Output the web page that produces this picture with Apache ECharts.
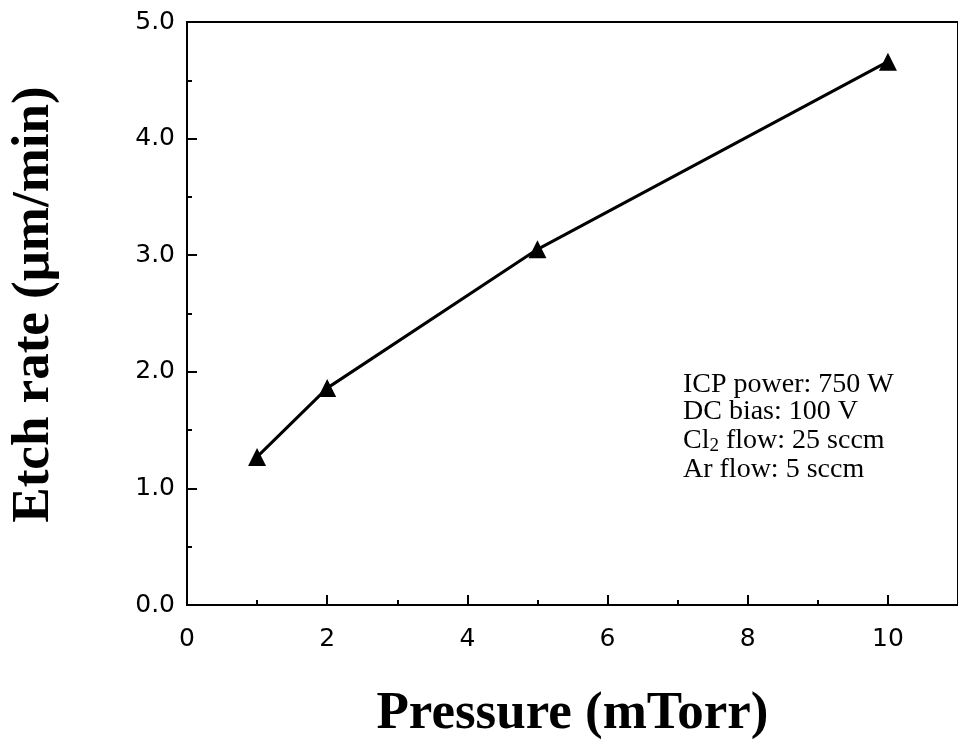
<!DOCTYPE html>
<html>
<head>
<meta charset="utf-8">
<script src="https://cdn.jsdelivr.net/npm/echarts@6/dist/echarts.min.js"></script>
<style>
  html, body { margin: 0; padding: 0; background: #fff; }
  #chart { width: 958px; height: 750px; }
</style>
</head>
<body>
<div id="chart"></div>
<script>
// pressure (mTorr) vs etch rate (um/min)
var pressure = [1, 2, 5, 10];
var etchRate = [1.27, 1.86, 3.05, 4.66];
var notes = ["ICP power: 750 W", "DC bias: 100 V", "{n|Cl}{s|2}{n| flow: 25 sccm}", "Ar flow: 5 sccm"];
var noteTops = [371, 398, 427, 456];

var myChart = echarts.init(document.getElementById("chart"));
var tickFont = { color: "#000", fontSize: 25, fontFamily: "DejaVu Sans" };
var nameFont = { color: "#000", fontSize: 53, fontWeight: "bold", fontFamily: "Liberation Serif" };

var graphics = notes.map(function (t, i) {
  return {
    type: "text",
    left: 683,
    top: noteTops[i],
    style: {
      text: t,
      font: "28px 'Liberation Serif'",
      fill: "#000",
      rich: {
        n: { fontSize: 28, lineHeight: 30, fontFamily: "Liberation Serif" },
        s: { fontSize: 19, lineHeight: 8, verticalAlign: "bottom", fontFamily: "Liberation Serif" },
      },
    },
  };
});

var option = {
  backgroundColor: "#fff",
  animation: false,
  grid: {
    left: 184,
    right: -6,
    top: 22,
    bottom: 145,
    show: true,
    borderColor: "#000",
    borderWidth: 2,
  },
  xAxis: {
    type: "value",
    min: 0,
    max: 11,
    interval: 2,
    name: "Pressure (mTorr)",
    nameLocation: "middle",
    nameGap: 83,
    nameTextStyle: nameFont,
    axisLine: { show: true, onZero: false, lineStyle: { color: "#000", width: 2 } },
    axisTick: { show: true, inside: true, length: 10, lineStyle: { color: "#000", width: 2 } },
    minorTick: { show: true, splitNumber: 2, length: 5, lineStyle: { color: "#000", width: 2 } },
    splitLine: { show: false },
    axisLabel: Object.assign({ margin: 22, showMaxLabel: false }, tickFont),
  },
  yAxis: {
    type: "value",
    min: 0,
    max: 5,
    interval: 1,
    name: "Etch rate (μm/min)",
    nameLocation: "middle",
    nameGap: 126,
    nameTextStyle: Object.assign({ padding: [0, 0, 0, 18] }, nameFont),
    axisLine: { show: true, lineStyle: { color: "#000", width: 2 } },
    axisTick: { show: true, inside: true, length: 10, lineStyle: { color: "#000", width: 2 } },
    minorTick: { show: true, splitNumber: 2, length: 5, lineStyle: { color: "#000", width: 2 } },
    splitLine: { show: false },
    axisLabel: Object.assign({
      margin: 12,
      formatter: function (v) { return v.toFixed(1); },
    }, tickFont),
  },
  graphic: graphics,
  series: [
    {
      type: "line",
      data: pressure.map(function (p, i) { return [p, etchRate[i]]; }),
      symbol: "triangle",
      symbolSize: 18,
      itemStyle: { color: "#000" },
      lineStyle: { color: "#000", width: 3 },
    },
  ],
};
myChart.setOption(option);
</script>
</body>
</html>
